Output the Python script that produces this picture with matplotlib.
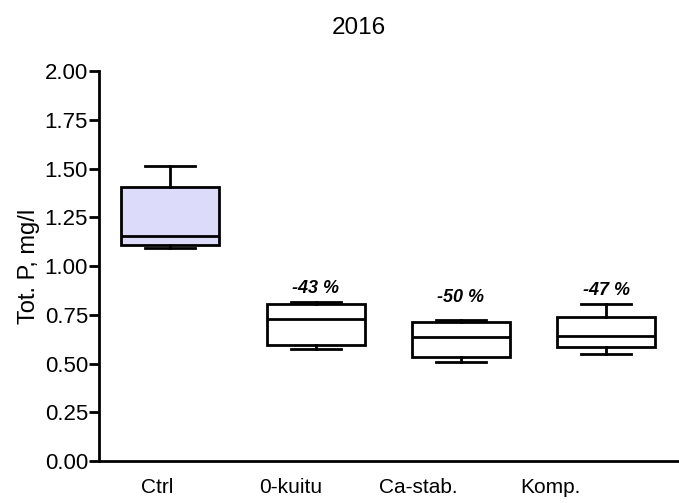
import matplotlib
matplotlib.use("Agg")
import matplotlib.pyplot as plt

plt.rcParams['font.family'] = ['Liberation Sans', 'DejaVu Sans']

groups = ['Ctrl', '0-kuitu', 'Ca-stab.', 'Komp.']
p_min = [1.095, 0.574, 0.511, 0.549]
p_q1 = [1.110, 0.595, 0.534, 0.587]
p_med = [1.155, 0.731, 0.636, 0.644]
p_q3 = [1.407, 0.808, 0.713, 0.738]
p_max = [1.512, 0.815, 0.726, 0.805]
changes = ['', '-43 %', '-50 %', '-47 %']

stats = []
for i, g in enumerate(groups):
    stats.append({'label': g, 'whislo': p_min[i], 'q1': p_q1[i], 'med': p_med[i],
                  'q3': p_q3[i], 'whishi': p_max[i], 'fliers': []})

fig = plt.figure(figsize=(6.79, 5.03), dpi=100)
ax = fig.add_axes([0.146, 0.083, 0.854, 0.776])

lw = 2.0
pos = list(range(len(groups)))
bp = ax.bxp(stats, positions=pos, widths=0.675, patch_artist=True, showfliers=False,
            boxprops=dict(linewidth=lw, edgecolor='black', facecolor='white'),
            medianprops=dict(linewidth=lw, color='black'),
            whiskerprops=dict(linewidth=lw, color='black'),
            capprops=dict(linewidth=lw, color='black'),
            capwidths=0.344)
bp['boxes'][0].set_facecolor('#dcdcfa')

# percent change labels above the whiskers
gaps = [0, 0.025, 0.07, 0.025]
for i, txt in enumerate(changes):
    if txt:
        ax.text(pos[i], p_max[i] + gaps[i], txt, ha='center', va='bottom',
                fontsize=13, fontweight='bold', fontstyle='italic')

ax.set_ylim(0, 2.0)
ax.set_xlim(-0.489, 3.5)
ax.set_yticks([0, 0.25, 0.5, 0.75, 1.0, 1.25, 1.5, 1.75, 2.0])
ax.set_yticklabels(['%.2f' % v for v in ax.get_yticks()], fontsize=16)
ax.set_ylabel('Tot. P, mg/l', fontsize=17, labelpad=3)

# category labels sit a bit left of the boxes in the original
label_x = [-0.093, 1 - 0.172, 2 - 0.296, 3 - 0.385]
ax.set_xticks(label_x)
ax.set_xticklabels(groups, fontsize=15)
ax.tick_params(axis='x', length=0, pad=12)
ax.tick_params(axis='y', length=7, width=2, direction='out', pad=1)

for s in ['top', 'right']:
    ax.spines[s].set_visible(False)
for s in ['left', 'bottom']:
    ax.spines[s].set_linewidth(2)

fig.text(359 / 679, 1 - 28 / 503, '2016', ha='center', va='center', fontsize=17.5)

fig.savefig('out.png', dpi=100)
